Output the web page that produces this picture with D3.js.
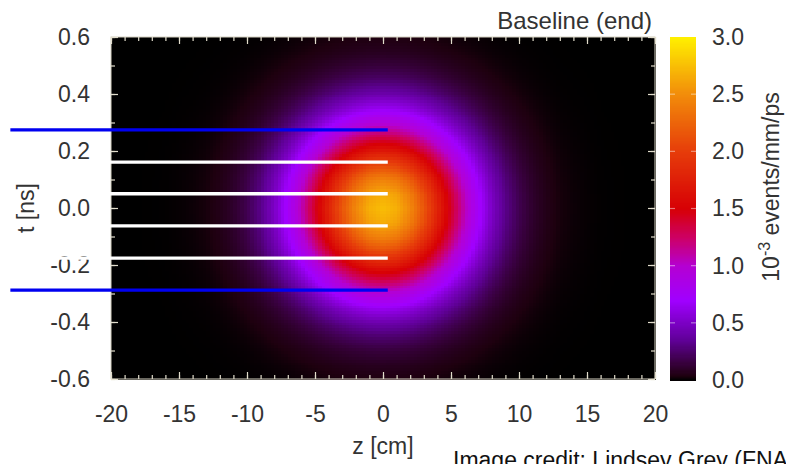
<!DOCTYPE html>
<html><head><meta charset="utf-8">
<script src="https://cdn.jsdelivr.net/npm/d3@7"></script>
<style>
html,body{margin:0;padding:0;background:#fff;overflow:hidden;}
svg{display:block;font-family:"Liberation Sans",Arial,Helvetica,sans-serif;}
</style></head><body>
<svg id="chart" width="786" height="464"></svg>
<script>
// ---- data ----
const zTicks = [-20, -15, -10, -5, 0, 5, 10, 15, 20];
const tTicks = [-0.6, -0.4, -0.2, 0.0, 0.2, 0.4, 0.6];
const cTicks = [0.0, 0.5, 1.0, 1.5, 2.0, 2.5, 3.0];
const peakDensity = 2.75; // 10^-3 events/mm/ps at the centre
const zSamples = [-20,-19,-18,-17,-16,-15,-14,-13,-12,-11,-10,-9,-8,-7,-6,-5,-4,-3,-2,-1,0,1,2,3,4,5,6,7,8,9,10,11,12,13,14,15,16,17,18,19,20];
const zProfile = [0.000,0.0001,0.0002,0.0005,0.001,0.003,0.006,0.011,0.022,0.041,0.071,0.118,0.184,0.274,0.387,0.517,0.655,0.788,0.900,0.974,1.000,0.974,0.900,0.788,0.655,0.517,0.387,0.274,0.184,0.118,0.071,0.041,0.022,0.011,0.006,0.003,0.001,0.0005,0.0002,0.0001,0.000];
const tSamples = [-0.60,-0.55,-0.50,-0.45,-0.40,-0.35,-0.30,-0.25,-0.20,-0.15,-0.10,-0.05,0.00,0.05,0.10,0.15,0.20,0.25,0.30,0.35,0.40,0.45,0.50,0.55,0.60];
const tProfile = [0.015,0.029,0.054,0.094,0.155,0.240,0.350,0.482,0.627,0.769,0.890,0.971,1.000,0.971,0.890,0.769,0.627,0.482,0.350,0.240,0.155,0.094,0.054,0.029,0.015];
const blueLinesT = [0.274, -0.288];
const whiteLinesT = [0.161, 0.050, -0.063, -0.176];
const lineZRange = [-27.4, 0.35];
const colorStops = [0, 0.04, 0.15, 0.35, 0.7, 1.0, 1.25, 1.5, 2.0, 2.5, 3.0];
const colorValues = ["#000000","#1e000f","#37003c","#5f0096","#a000ff","#b400d2","#cd0064","#d70005","#e63c0a","#f28c0a","#fff000"];

// ---- layout ----
const FS = 23;
const svg = d3.select("#chart");
const x = d3.scaleLinear().domain([-20, 20]).range([111, 655]);
const y = d3.scaleLinear().domain([-0.6, 0.6]).range([379, 37]);
const cScale = d3.scaleLinear().domain([0, 3]).range([380, 37]);
const color = d3.scaleLinear().domain(colorStops).range(colorValues).clamp(true);
const zInterp = d3.scaleLinear().domain(zSamples).range(zProfile).clamp(true);
const tInterp = d3.scaleLinear().domain(tSamples).range(tProfile).clamp(true);

// ---- heatmap ----
const dz = 0.25, dt = 0.01;
const cells = [];
const zs = d3.range(-20, 20 - 1e-9, dz);
const ts = d3.range(-0.6, 0.6 - 1e-9, dt);
for (const z0 of zs) for (const t0 of ts) {
  const v = peakDensity * zInterp(z0 + dz / 2) * tInterp(t0 + dt / 2);
  cells.push({z0, t0, v});
}
svg.append("g").attr("shape-rendering", "crispEdges")
  .selectAll("rect").data(cells).join("rect")
  .attr("x", d => x(d.z0))
  .attr("y", d => y(d.t0 + dt))
  .attr("width", d => x(d.z0 + dz) - x(d.z0) + 0.6)
  .attr("height", d => y(d.t0) - y(d.t0 + dt) + 0.6)
  .attr("fill", d => color(d.v));

// ---- frame & ticks ----
const tickCol = "#e2ddcc";
svg.append("rect").attr("x", 111).attr("y", 37).attr("width", 544).attr("height", 342)
  .attr("fill", "none").attr("stroke", "#d6d2c2").attr("stroke-width", 1);

function styleAxis(g) {
  g.select(".domain").remove();
  g.selectAll(".tick line").attr("stroke", tickCol).attr("stroke-width", 1.2);
  g.selectAll(".tick text").attr("fill", "#333").attr("font-size", FS)
    .attr("font-family", "'Liberation Sans',Arial,Helvetica,sans-serif");
}
const zMinor = d3.range(-20, 21, 1);
const tMinor = d3.range(-6, 7, 1).map(d => d / 10);
// bottom
svg.append("g").attr("transform", "translate(0,379)")
  .call(d3.axisBottom(x).tickValues(zMinor).tickSize(-4).tickFormat("")).call(styleAxis);
svg.append("g").attr("transform", "translate(0,379)")
  .call(d3.axisBottom(x).tickValues(zTicks).tickSize(-7).tickPadding(27).tickFormat(d => String(d))).call(styleAxis);
// top
svg.append("g").attr("transform", "translate(0,37)")
  .call(d3.axisTop(x).tickValues(zMinor).tickSize(-4).tickFormat("")).call(styleAxis);
svg.append("g").attr("transform", "translate(0,37)")
  .call(d3.axisTop(x).tickValues(zTicks).tickSize(-7).tickFormat("")).call(styleAxis);
// left
svg.append("g").attr("transform", "translate(111,0)")
  .call(d3.axisLeft(y).tickValues(tMinor).tickSize(-4).tickFormat("")).call(styleAxis);
svg.append("g").attr("transform", "translate(111,0)")
  .call(d3.axisLeft(y).tickValues(tTicks).tickSize(-7).tickPadding(21).tickFormat(d => d.toFixed(1))).call(styleAxis);
// right
svg.append("g").attr("transform", "translate(655,0)")
  .call(d3.axisRight(y).tickValues(tMinor).tickSize(-4).tickFormat("")).call(styleAxis);
svg.append("g").attr("transform", "translate(655,0)")
  .call(d3.axisRight(y).tickValues(tTicks).tickSize(-7).tickFormat("")).call(styleAxis);

// ---- overlay lines ----
svg.append("g").selectAll("line").data(whiteLinesT).join("line")
  .attr("x1", x(lineZRange[0])).attr("x2", x(lineZRange[1]))
  .attr("y1", d => y(d)).attr("y2", d => y(d))
  .attr("stroke", "#ffffff").attr("stroke-width", 3.3);
svg.append("g").selectAll("line").data(blueLinesT).join("line")
  .attr("x1", x(lineZRange[0])).attr("x2", x(lineZRange[1]))
  .attr("y1", d => y(d)).attr("y2", d => y(d))
  .attr("stroke", "#0000f0").attr("stroke-width", 3.3);

// ---- colour bar ----
const cbX = 670, cbW = 26;
const cbSteps = d3.range(0, 3, 0.01);
svg.append("g").attr("shape-rendering", "crispEdges")
  .selectAll("rect").data(cbSteps).join("rect")
  .attr("x", cbX).attr("width", cbW)
  .attr("y", d => cScale(d + 0.01))
  .attr("height", d => cScale(d) - cScale(d + 0.01) + 0.6)
  .attr("fill", d => color(d + 0.005));
const cbInner = cTicks.filter(d => d > 0 && d < 3);
svg.append("g").selectAll("line").data(cbInner).join("line")
  .attr("x1", cbX).attr("x2", cbX + 5).attr("y1", d => cScale(d)).attr("y2", d => cScale(d))
  .attr("stroke", "rgba(255,255,255,0.45)").attr("stroke-width", 1.2);
svg.append("g").selectAll("line").data(cbInner).join("line")
  .attr("x1", cbX + cbW - 5).attr("x2", cbX + cbW).attr("y1", d => cScale(d)).attr("y2", d => cScale(d))
  .attr("stroke", "rgba(255,255,255,0.45)").attr("stroke-width", 1.2);
svg.append("g").attr("transform", `translate(${cbX + cbW},0)`)
  .call(d3.axisRight(cScale).tickValues(cTicks).tickSize(0).tickPadding(16).tickFormat(d => d.toFixed(1)))
  .call(styleAxis);

// ---- texts ----
svg.append("text").attr("x", 652).attr("y", 29).attr("text-anchor", "end")
  .attr("font-size", 24).attr("fill", "#333").text("Baseline (end)");
svg.append("text").attr("x", 383).attr("y", 454).attr("text-anchor", "middle")
  .attr("font-size", FS).attr("fill", "#333").text("z [cm]");
svg.append("text").attr("transform", "translate(34,208) rotate(-90)").attr("text-anchor", "middle")
  .attr("font-size", FS).attr("fill", "#333").text("t [ns]");
const cl = svg.append("text").attr("transform", "translate(779,187) rotate(-90)").attr("text-anchor", "middle")
  .attr("font-size", FS).attr("fill", "#333");
cl.append("tspan").text("10");
cl.append("tspan").attr("dy", -9).attr("font-size", 16).text("-3");
cl.append("tspan").attr("dy", 9).text(" events/mm/ps");
svg.append("text").attr("x", 453).attr("y", 468).attr("font-size", FS).attr("fill", "#111")
  .text("Image credit: Lindsey Grey (FNAL)");
</script>
</body></html>
